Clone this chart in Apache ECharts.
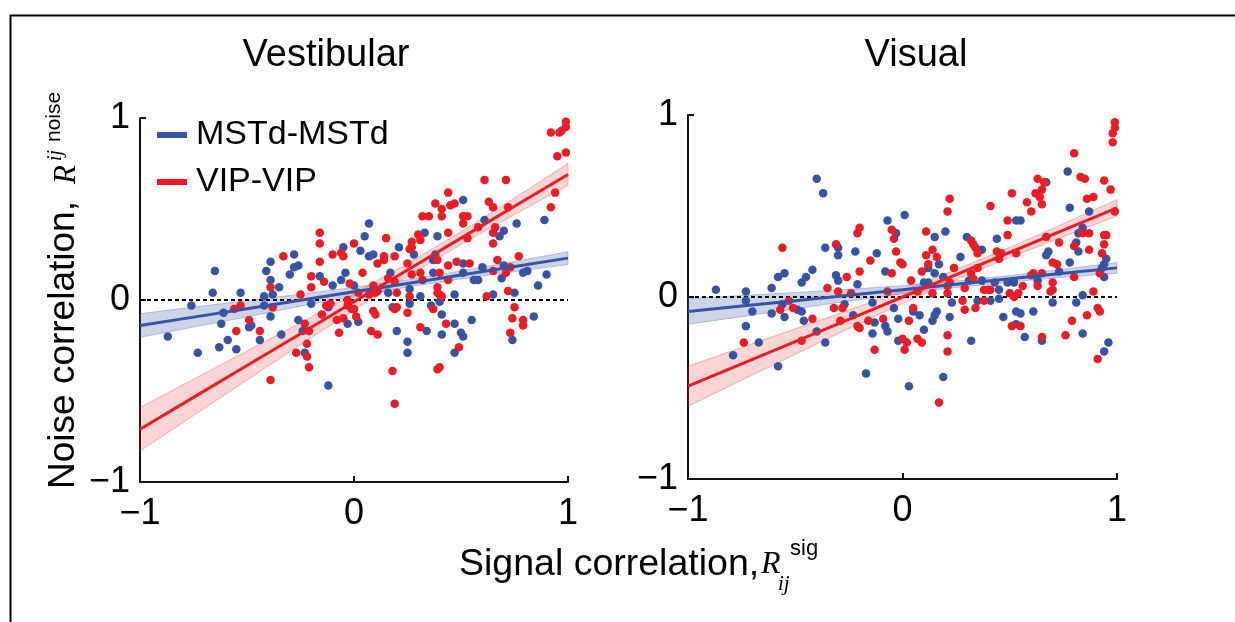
<!DOCTYPE html>
<html>
<head>
<meta charset="utf-8">
<script src="https://cdn.jsdelivr.net/npm/echarts@6/dist/echarts.min.js"></script>
<style>
html,body{margin:0;padding:0;background:#fff;}
#chart{width:1235px;height:622px;}
</style>
</head>
<body>
<div id="chart"></div>
<script>
// ---------- data ----------
const panelTitles = ['Vestibular', 'Visual'];
const seriesNames = ['MSTd-MSTd', 'VIP-VIP'];
const tickValues = [-1, 0, 1];
const tickLabels = ['\u22121', '0', '1'];

const leftBlue = [
[-0.65,0.16],[-0.66,0.04],[-0.53,0.04],[-0.42,0.02],[-0.38,0.03],[-0.39,0.11],[-0.41,0.16],[-0.39,0.21],[-0.35,0.07],[-0.28,0.25],[-0.28,0.18],[-0.26,0.19],[-0.30,0.14],[-0.16,0.13],[-0.10,0.08],[-0.05,0.29],[-0.04,0.15],[-0.06,0.11],
[0.51,0.55],[0.89,0.44],[0.90,0.14],[0.86,0.08],[0.61,0.44],[0.70,0.38],[0.68,0.35],[0.76,0.42],[0.07,0.42],[0.05,0.35],[0.03,0.27],[0.09,0.25],[0.07,0.24],[0.21,0.29],[0.33,0.37],[0.39,0.35],[0.28,0.25],[0.38,0.25],[0.37,0.22],[0.51,0.20],[0.60,0.18],[0.70,0.19],[0.69,0.12],[0.79,0.15],[0.81,0.16],[0.65,0.03],[0.47,0.03],[0.56,0.11],[0.58,0.11],[0.51,0.15],[0.31,0.02],[0.37,0.15],[0.26,0.06],[0.17,0.15],[0.16,0.04],[0.08,0.04],[0.00,0.08],
[-0.87,-0.20],[-0.76,-0.03],[-0.73,-0.29],[-0.62,-0.13],[-0.61,-0.07],[-0.59,-0.22],[-0.63,-0.26],[-0.55,-0.27],[-0.49,-0.15],[-0.48,-0.14],[-0.44,-0.22],[-0.42,-0.03],[-0.39,-0.09],[-0.34,-0.19],[-0.26,-0.11],[-0.24,-0.17],[-0.23,-0.29],[-0.12,-0.47],[-0.20,-0.02],[-0.12,-0.04],[-0.03,-0.13],
[0.02,-0.12],[0.20,-0.17],[0.18,-0.04],[0.26,-0.02],[0.25,-0.23],[0.25,-0.29],[0.34,-0.17],[0.36,-0.03],[0.40,-0.01],[0.41,-0.08],[0.41,-0.19],[0.47,-0.13],[0.50,-0.18],[0.51,-0.20],[0.47,-0.29],[0.55,-0.11],[0.75,0.04],[0.84,-0.09],[0.74,-0.22]
];
const leftRed = [
[-0.39,0.07],[-0.33,0.24],[-0.25,0.03],[-0.16,0.37],[-0.16,0.31],[-0.16,0.21],[-0.20,0.13],[-0.20,0.07],[-0.14,0.10],[-0.10,0.25],[-0.06,0.26],[-0.05,0.24],
[0.92,0.92],[0.96,0.92],[0.99,0.98],[0.99,0.95],[0.97,0.93],[0.95,0.79],[0.99,0.81],[0.94,0.59],[0.92,0.51],[0.61,0.66],[0.71,0.66],[0.44,0.59],[0.38,0.53],[0.41,0.50],[0.45,0.52],[0.47,0.53],[0.63,0.54],[0.65,0.51],[0.72,0.51],[0.32,0.46],[0.35,0.46],[0.41,0.46],[0.51,0.46],[0.53,0.46],[0.51,0.42],[0.58,0.40],[0.66,0.40],[0.65,0.37],[0.65,0.31],[0.15,0.34],[0.00,0.31],[0.27,0.32],[0.27,0.29],[0.26,0.28],[0.30,0.36],[0.31,0.33],[0.44,0.37],[0.53,0.34],[0.14,0.24],[0.14,0.22],[0.19,0.24],[0.11,0.20],[0.25,0.20],[0.39,0.22],[0.44,0.19],[0.48,0.21],[0.54,0.20],[0.67,0.22],[0.77,0.24],[0.73,0.18],[0.65,0.16],[0.71,0.15],[0.72,0.05],[0.62,0.02],[0.44,0.11],[0.40,0.15],[0.39,0.07],[0.40,0.03],[0.39,0.04],[0.31,0.15],[0.32,0.11],[0.27,0.14],[0.20,0.04],[0.19,0.10],[0.16,0.12],[0.11,0.05],[0.09,0.08],[0.07,0.03],[0.04,0.15],[-0.02,0.09],[0.02,0.04],
[-0.55,-0.17],[-0.56,-0.05],[-0.53,-0.03],[-0.49,-0.11],[-0.44,-0.17],[-0.38,-0.04],[-0.39,-0.44],[-0.23,-0.13],[-0.21,-0.17],[-0.22,-0.24],[-0.22,-0.31],[-0.27,-0.29],[-0.21,-0.37],[-0.15,-0.08],[-0.13,-0.03],[-0.11,-0.02],[-0.08,-0.11],[-0.05,-0.10],[-0.07,-0.18],[-0.03,0.00],
[0.01,-0.09],[0.00,-0.05],[-0.01,-0.05],[-0.03,-0.03],[0.10,0.04],[0.09,-0.06],[0.10,-0.08],[0.08,-0.17],[0.11,-0.19],[0.19,-0.05],[0.20,-0.04],[0.25,-0.07],[0.26,0.02],[0.18,-0.39],[0.19,-0.57],[0.31,-0.15],[0.37,-0.05],[0.41,0.02],[0.43,-0.13],[0.39,-0.38],[0.40,-0.37],[0.49,-0.26],[0.75,-0.04],[0.74,-0.10],[0.79,-0.11],[0.79,-0.14],[0.73,-0.18]
];
const rightBlue = [
[-0.40,0.65],[-0.37,0.57],[-0.36,0.27],[-0.30,0.27],[-0.30,0.23],[-0.22,0.25],[-0.12,0.24],[-0.07,0.42],[-0.03,0.35],[-0.08,0.14],[-0.87,0.04],[-0.73,0.03],[-0.61,0.05],[-0.58,0.11],[-0.55,0.13],[-0.47,0.08],[-0.45,0.11],[-0.42,0.15],[-0.31,0.12],[-0.30,0.09],[-0.21,0.07],[-0.73,-0.02],
[0.77,0.69],[0.67,0.63],[0.78,0.49],[0.87,0.47],[0.01,0.45],[0.53,0.42],[0.55,0.42],[0.44,0.32],[0.30,0.33],[0.37,0.26],[0.27,0.22],[0.15,0.33],[0.20,0.36],[0.17,0.18],[0.12,0.16],[0.15,0.13],[0.10,0.08],[0.12,0.08],[0.19,0.11],[0.31,0.09],[0.37,0.09],[0.43,0.08],[0.45,0.04],[0.49,0.08],[0.52,0.08],[0.63,0.09],[0.67,0.23],[0.68,0.25],[0.78,0.19],[0.73,0.14],[0.81,0.30],[0.82,0.35],[0.84,0.38],[0.82,0.25],[0.95,0.21],[0.94,0.18],[0.93,0.16],[0.94,0.11],[0.84,0.01],
[-0.70,-0.08],[-0.73,-0.16],[-0.79,-0.32],[-0.67,-0.25],[-0.61,-0.09],[-0.58,-0.38],[-0.56,-0.04],[-0.55,-0.11],[-0.49,-0.07],[-0.47,-0.08],[-0.46,-0.13],[-0.40,-0.19],[-0.36,-0.25],[-0.27,-0.04],[-0.23,-0.10],[-0.13,-0.14],[-0.14,-0.20],[-0.17,-0.42],[-0.08,-0.16],[-0.07,-0.19],[-0.04,-0.06],[-0.14,-0.03],[-0.02,-0.12],[-0.02,-0.24],
[0.05,-0.08],[0.08,-0.10],[0.10,-0.18],[0.03,-0.49],[0.14,-0.13],[0.15,-0.10],[0.16,-0.08],[0.22,-0.11],[0.19,-0.44],[0.23,-0.03],[0.32,-0.24],[0.35,-0.02],[0.41,-0.02],[0.45,-0.01],[0.47,-0.11],[0.53,-0.15],[0.53,-0.08],[0.55,-0.09],[0.57,-0.22],[0.61,-0.08],[0.65,-0.24],[0.70,-0.03],[0.84,-0.20],[0.81,-0.03],[0.96,-0.25],[0.94,-0.30]
];
const rightRed = [
[-0.56,0.27],[-0.31,0.29],[-0.20,0.38],[-0.21,0.35],[-0.15,0.20],[-0.20,0.14],[-0.05,0.37],[-0.04,0.32],[-0.03,0.25],[-0.05,0.13],[-0.01,0.19],[-0.35,0.05],[-0.26,0.11],[-0.30,0.03],[-0.24,0.02],[-0.07,0.03],[-0.53,-0.02],
[0.99,0.96],[0.99,0.93],[0.98,0.90],[0.98,0.85],[0.80,0.79],[0.83,0.66],[0.85,0.65],[0.94,0.64],[0.97,0.59],[0.63,0.65],[0.66,0.63],[0.65,0.59],[0.62,0.57],[0.64,0.55],[0.65,0.51],[0.86,0.54],[0.89,0.55],[0.99,0.47],[0.51,0.57],[0.58,0.52],[0.60,0.47],[0.41,0.50],[0.22,0.54],[0.21,0.47],[0.49,0.42],[0.49,0.34],[0.53,0.24],[0.32,0.31],[0.33,0.29],[0.34,0.27],[0.35,0.24],[0.44,0.25],[0.46,0.24],[0.45,0.21],[0.11,0.36],[0.14,0.26],[0.11,0.23],[0.16,0.22],[0.12,0.18],[0.00,0.18],[0.09,0.14],[0.24,0.16],[0.04,0.09],[0.07,0.03],[0.22,0.08],[0.21,0.06],[0.14,0.02],[0.21,0.02],[0.29,0.05],[0.32,0.13],[0.33,0.10],[0.35,0.16],[0.38,0.04],[0.40,0.04],[0.41,0.04],[0.50,0.02],[0.54,0.02],[0.56,0.06],[0.60,0.12],[0.61,0.13],[0.65,0.13],[0.63,0.06],[0.67,0.33],[0.73,0.30],[0.70,0.19],[0.72,0.18],[0.80,0.11],[0.70,0.08],[0.70,0.04],[0.69,0.03],[0.80,0.28],[0.84,0.35],[0.87,0.35],[0.87,0.26],[0.94,0.34],[0.95,0.34],[0.94,0.29],[0.93,0.24],[0.89,0.03],[0.92,0.13],
[-0.74,-0.25],[-0.57,-0.07],[-0.51,-0.06],[-0.42,-0.12],[-0.47,-0.24],[-0.32,-0.06],[-0.28,-0.06],[-0.29,-0.13],[-0.21,-0.16],[-0.20,-0.17],[-0.16,-0.13],[-0.13,-0.29],[-0.09,-0.12],
[0.05,-0.06],[0.03,-0.13],[0.00,-0.23],[0.02,-0.25],[0.01,-0.29],[0.07,-0.23],[0.09,-0.25],[0.21,-0.21],[0.21,-0.30],[0.17,-0.58],[0.28,-0.02],[0.29,-0.07],[0.34,-0.06],[0.38,-0.02],[0.51,-0.16],[0.55,-0.16],[0.52,0.00],[0.65,-0.22],[0.76,-0.21],[0.79,-0.13],[0.86,-0.10],[0.91,-0.06],[0.92,-0.08],[0.91,-0.34]
];

// regression fits and confidence bands
const fitX = [-1, -0.75, -0.5, -0.25, 0, 0.25, 0.5, 0.75, 1];
const leftBlueFit   = [-0.14, -0.094, -0.0475, -0.001, 0.045, 0.091, 0.1375, 0.184, 0.23];
const leftBlueLow   = [-0.205, -0.149, -0.093, -0.034, 0.02, 0.071, 0.116, 0.156, 0.195];
const leftBlueHigh  = [-0.075, -0.039, -0.003, 0.032, 0.07, 0.111, 0.16, 0.212, 0.265];
const leftRedFit    = [-0.71, -0.535, -0.36, -0.185, -0.01, 0.165, 0.34, 0.515, 0.69];
const leftRedLow    = [-0.83, -0.635, -0.44, -0.245, -0.055, 0.13, 0.305, 0.47, 0.63];
const leftRedHigh   = [-0.59, -0.435, -0.28, -0.125, 0.035, 0.20, 0.375, 0.56, 0.75];
const rightBlueFit  = [-0.08, -0.05, -0.02, 0.01, 0.04, 0.07, 0.10, 0.13, 0.16];
const rightBlueLow  = [-0.15, -0.108, -0.065, -0.022, 0.018, 0.052, 0.082, 0.108, 0.13];
const rightBlueHigh = [-0.01, 0.008, 0.025, 0.042, 0.062, 0.088, 0.118, 0.152, 0.19];
const rightRedFit   = [-0.49, -0.3675, -0.245, -0.1225, 0, 0.1225, 0.245, 0.3675, 0.49];
const rightRedLow   = [-0.60, -0.4575, -0.315, -0.1725, -0.035, 0.0945, 0.217, 0.3325, 0.445];
const rightRedHigh  = [-0.38, -0.2775, -0.175, -0.0725, 0.035, 0.1505, 0.273, 0.4025, 0.535];
const zeroLine = [[-1, 0], [1, 0]];

// ---------- styling ----------
const BLUE = '#3953a4';
const RED = '#ec1c24';
const FONT = "'Liberation Sans', Arial, Helvetica, sans-serif";
const SERIF = "'Liberation Serif', 'DejaVu Serif', serif";

function pairs(xs, ys) { return xs.map((x, i) => [x, ys[i]]); }

function axisCommon(idx, margin) {
  return {
    type: 'value', min: -1, max: 1, interval: 1, gridIndex: idx,
    splitLine: { show: false },
    axisLine: { show: true, onZero: false, lineStyle: { color: '#111', width: 2 } },
    axisTick: { show: true, inside: true, length: 6, lineStyle: { color: '#111', width: 2 } },
    axisLabel: {
      fontFamily: FONT, fontSize: 36, color: '#000', margin: margin,
      formatter: v => tickLabels[tickValues.indexOf(v)]
    }
  };
}

function band(name, gi, low, high, color, stroke) {
  return {
    type: 'custom', name: name, xAxisIndex: gi, yAxisIndex: gi, z: 1, silent: true,
    data: [[fitX[0], low[0]]],
    renderItem: function (params, api) {
      const pts = [];
      for (let i = 0; i < fitX.length; i++) pts.push(api.coord([fitX[i], high[i]]));
      for (let i = fitX.length - 1; i >= 0; i--) pts.push(api.coord([fitX[i], low[i]]));
      return { type: 'polygon', shape: { points: pts }, style: { fill: color, stroke: stroke, lineWidth: 1 } };
    }
  };
}
function dots(name, gi, data, color, z) {
  return { type: 'scatter', name: name, xAxisIndex: gi, yAxisIndex: gi, z: z, data: data,
    symbolSize: 8.5, itemStyle: { color: color, opacity: 1 }, silent: true };
}
function fitLine(name, gi, ys, color) {
  return { type: 'line', name: name, xAxisIndex: gi, yAxisIndex: gi, z: 6, data: pairs(fitX, ys),
    showSymbol: false, symbol: 'none', lineStyle: { color: color, width: 3 }, itemStyle: { color: color }, silent: true };
}
function zero(gi) {
  return { type: 'line', name: 'zero' + gi, xAxisIndex: gi, yAxisIndex: gi, z: 2, data: zeroLine,
    symbol: 'none', lineStyle: { color: '#000', width: 2, type: [4, 3] }, silent: true };
}

const chart = echarts.init(document.getElementById('chart'), null, { renderer: 'canvas' });
chart.setOption({
  animation: false,
  backgroundColor: '#fff',
  grid: [
    { left: 140, top: 118, width: 428, height: 364 },
    { left: 688, top: 115, width: 429, height: 364 }
  ],
  xAxis: [axisCommon(0, 14), axisCommon(1, 14)],
  yAxis: [axisCommon(0, 10), axisCommon(1, 10)],
  legend: {
    left: 152, top: 113, orient: 'vertical', itemWidth: 30, itemHeight: 6, itemGap: 13,
    selectedMode: false,
    data: [{ name: seriesNames[0], icon: 'rect' }, { name: seriesNames[1], icon: 'rect' }],
    textStyle: { fontFamily: FONT, fontSize: 34, color: '#000', lineHeight: 34, padding: [0, 0, 0, 4] }
  },
  series: [
    band('bandLB', 0, leftBlueLow, leftBlueHigh, 'rgba(57,83,164,0.25)', 'rgba(57,83,164,0.3)'),
    band('bandLR', 0, leftRedLow, leftRedHigh, 'rgba(236,28,36,0.18)', 'rgba(236,28,36,0.3)'),
    band('bandRB', 1, rightBlueLow, rightBlueHigh, 'rgba(57,83,164,0.25)', 'rgba(57,83,164,0.3)'),
    band('bandRR', 1, rightRedLow, rightRedHigh, 'rgba(236,28,36,0.18)', 'rgba(236,28,36,0.3)'),
    zero(0), zero(1),
    dots('dotsLB', 0, leftBlue, BLUE, 3),
    dots('dotsLR', 0, leftRed, RED, 4),
    dots('dotsRB', 1, rightBlue, BLUE, 3),
    dots('dotsRR', 1, rightRed, RED, 4),
    fitLine(seriesNames[0], 0, leftBlueFit, BLUE),
    fitLine(seriesNames[1], 0, leftRedFit, RED),
    fitLine(seriesNames[0] + ' ', 1, rightBlueFit, BLUE),
    fitLine(seriesNames[1] + ' ', 1, rightRedFit, RED)
  ],
  graphic: [
    { type: 'rect', left: 8, top: 13, shape: { x: 0, y: 0, width: 1300, height: 700 },
      style: { fill: 'none', stroke: '#000', lineWidth: 2 }, silent: true },
    { type: 'text', x: 326, y: 56, style: { text: panelTitles[0], font: '38px ' + FONT, fill: '#000', textAlign: 'center', textVerticalAlign: 'middle' } },
    { type: 'text', x: 916, y: 56, style: { text: panelTitles[1], font: '38px ' + FONT, fill: '#000', textAlign: 'center', textVerticalAlign: 'middle' } },
    // y axis title (rotated)
    { type: 'text', x: 64, y: 489, rotation: Math.PI / 2, style: { text: 'Noise correlation,', font: '37px ' + FONT, fill: '#000', textAlign: 'left', textVerticalAlign: 'middle' } },
    { type: 'text', x: 67, y: 184, rotation: Math.PI / 2, style: { text: 'R', font: 'italic 31px ' + SERIF, fill: '#000', textAlign: 'left', textVerticalAlign: 'middle' } },
    { type: 'text', x: 56, y: 161, rotation: Math.PI / 2, style: { text: 'ij', font: 'italic 20px ' + SERIF, fill: '#000', textAlign: 'left', textVerticalAlign: 'middle' } },
    { type: 'text', x: 54, y: 142, rotation: Math.PI / 2, style: { text: 'noise', font: '21px ' + FONT, fill: '#000', textAlign: 'left', textVerticalAlign: 'middle' } },
    // x axis title
    { type: 'text', x: 459, y: 565, style: { text: 'Signal correlation,', font: '37.5px ' + FONT, fill: '#000', textAlign: 'left', textVerticalAlign: 'middle' } },
    { type: 'text', x: 761, y: 565, style: { text: 'R', font: 'italic 32px ' + SERIF, fill: '#000', textAlign: 'left', textVerticalAlign: 'middle' } },
    { type: 'text', x: 778, y: 584, style: { text: 'ij', font: 'italic 21px ' + SERIF, fill: '#000', textAlign: 'left', textVerticalAlign: 'middle' } },
    { type: 'text', x: 790, y: 549, style: { text: 'sig', font: '22px ' + FONT, fill: '#000', textAlign: 'left', textVerticalAlign: 'middle' } }
  ]
});
</script>
</body>
</html>
